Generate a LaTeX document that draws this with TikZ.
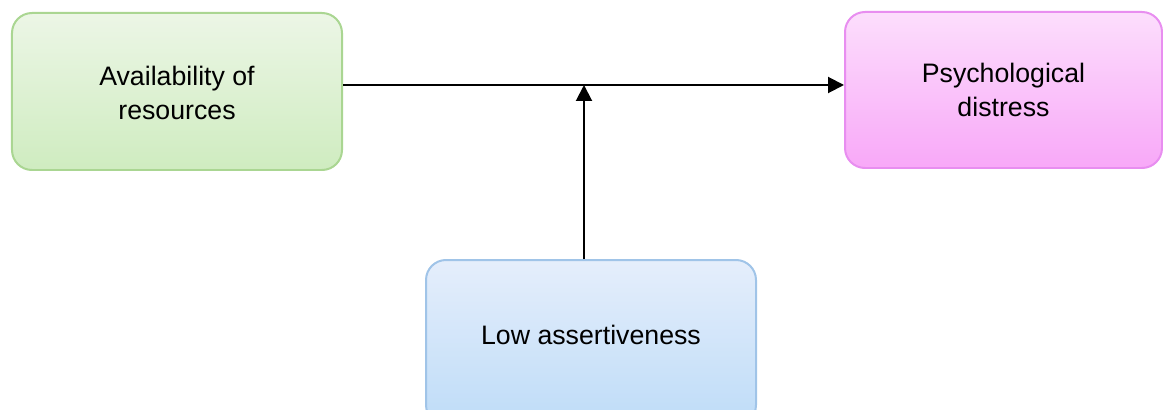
\documentclass[tikz,border=0pt]{standalone}
\usepackage{fontspec}
\setmainfont{Liberation Sans}
\usetikzlibrary{arrows.meta}
\definecolor{greentop}{RGB}{236,246,230}
\definecolor{greenbot}{RGB}{207,236,192}
\definecolor{greenline}{RGB}{170,214,146}
\definecolor{pinktop}{RGB}{252,222,252}
\definecolor{pinkbot}{RGB}{248,168,248}
\definecolor{pinkline}{RGB}{232,142,240}
\definecolor{bluetop}{RGB}{229,238,251}
\definecolor{bluebot}{RGB}{190,220,248}
\definecolor{blueline}{RGB}{160,196,232}
\tikzset{
    factor/.style={rounded corners=0.4cm, line width=0.04cm, align=center,
        font=\fontsize{15.2}{19.5}\selectfont, inner sep=0pt},
    link/.style={line width=0.04cm, -{Triangle[length=0.32cm,width=0.32cm]}}
}
\begin{document}
\begin{tikzpicture}
    \useasboundingbox (0,0) rectangle (23.26,-8.2);
    % Boxes
        % Predictor
        \node[factor, draw=greenline, top color=greentop, bottom color=greenbot,
            minimum width=6.6cm, minimum height=3.14cm, text height=1.12cm] (resources) at (3.54,-1.83)
            {Availability of\\resources};
        % Outcome
        \node[factor, draw=pinkline, top color=pinktop, bottom color=pinkbot,
            minimum width=6.34cm, minimum height=3.12cm] (distress) at (20.07,-1.8)
            {Psychological\\distress};
        % Moderator
        \node[factor, draw=blueline, top color=bluetop, bottom color=bluebot,
            minimum width=6.6cm, minimum height=3.3cm, text depth=0.3cm] (assert) at (11.82,-6.85)
            {Low assertiveness};
    % Arrows
        \coordinate (join) at (11.68,-1.70);
        \draw[link] (resources.east |- join) -- (distress.west |- join);
        \draw[link] (assert.north -| join) -- (join);
\end{tikzpicture}
\end{document}
